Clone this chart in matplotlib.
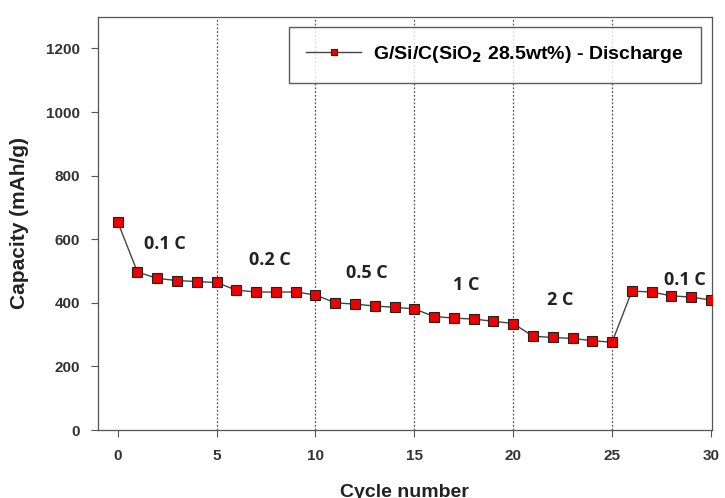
import matplotlib
matplotlib.use("Agg")
import matplotlib.pyplot as plt

plt.rcParams["font.family"] = ["Liberation Sans", "DejaVu Sans"]

# Discharge capacity per cycle
cycles = list(range(0, 31))
capacity = [655, 497, 477, 470, 467, 464, 440, 434, 434, 434, 425,
            400, 396, 390, 386, 381, 357, 352, 349, 342, 335,
            295, 291, 288, 281, 276, 437, 434, 422, 418, 409]

# C-rate boundaries and labels
rate_bounds = [5, 10, 15, 20, 25]
rate_labels = ["0.1 C", "0.2 C", "0.5 C", "1 C", "2 C", "0.1 C"]
rate_label_x = [2.4, 7.7, 12.6, 17.6, 22.4, 28.7]
rate_label_y = [585, 535, 495, 455, 410, 472]

fig = plt.figure(figsize=(7.25, 4.98), dpi=100)
ax = fig.add_axes([0.135, 0.1365, 0.847, 0.83])

for b in rate_bounds:
    ax.axvline(b, color="#555555", linestyle=(0, (1.5, 1.5)), linewidth=0.9, zorder=1)

ax.plot(cycles, capacity, "-s", color="#444444", linewidth=1.0,
        markerfacecolor="#ee0000", markeredgecolor="#222222",
        markeredgewidth=0.8, markersize=7,
        label="G/Si/C(SiO$_\\mathbf{2}$ 28.5wt%) - Discharge", zorder=3)

for lab, lx, ly in zip(rate_labels, rate_label_x, rate_label_y):
    ax.text(lx, ly, lab, ha="center", va="center", fontsize=13,
            fontweight="bold", family=["Open Sans", "DejaVu Sans"], color="#222222")

ax.set_xlim(-1, 30.05)
ax.set_ylim(0, 1300)
ax.set_xticks([0, 5, 10, 15, 20, 25, 30])
ax.set_yticks([0, 200, 400, 600, 800, 1000, 1200])
ax.tick_params(direction="out", length=5, width=0.8, color="#555555",
               labelsize=11, labelcolor="#333333", pad=8)
ax.tick_params(axis="x", pad=9)
for t in ax.get_xticklabels() + ax.get_yticklabels():
    t.set_fontweight("bold")
for s in ax.spines.values():
    s.set_color("#555555")
    s.set_linewidth(0.9)

ax.set_xlabel("Cycle number", fontsize=14, fontweight="bold", color="#222222", labelpad=15)
ax.set_ylabel("Capacity (mAh/g)", fontsize=15, fontweight="bold", color="#222222", labelpad=12)

leg = ax.legend(loc="upper right", bbox_to_anchor=(0.988, 0.985),
                prop={"weight": "bold", "size": 14}, frameon=True, fancybox=False,
                borderpad=0.9, handlelength=2.8, handletextpad=0.6, markerscale=0.7,
                borderaxespad=0.2)
leg.get_frame().set_edgecolor("#333333")
leg.get_frame().set_linewidth(1.0)

fig.savefig("out.png", dpi=100)
